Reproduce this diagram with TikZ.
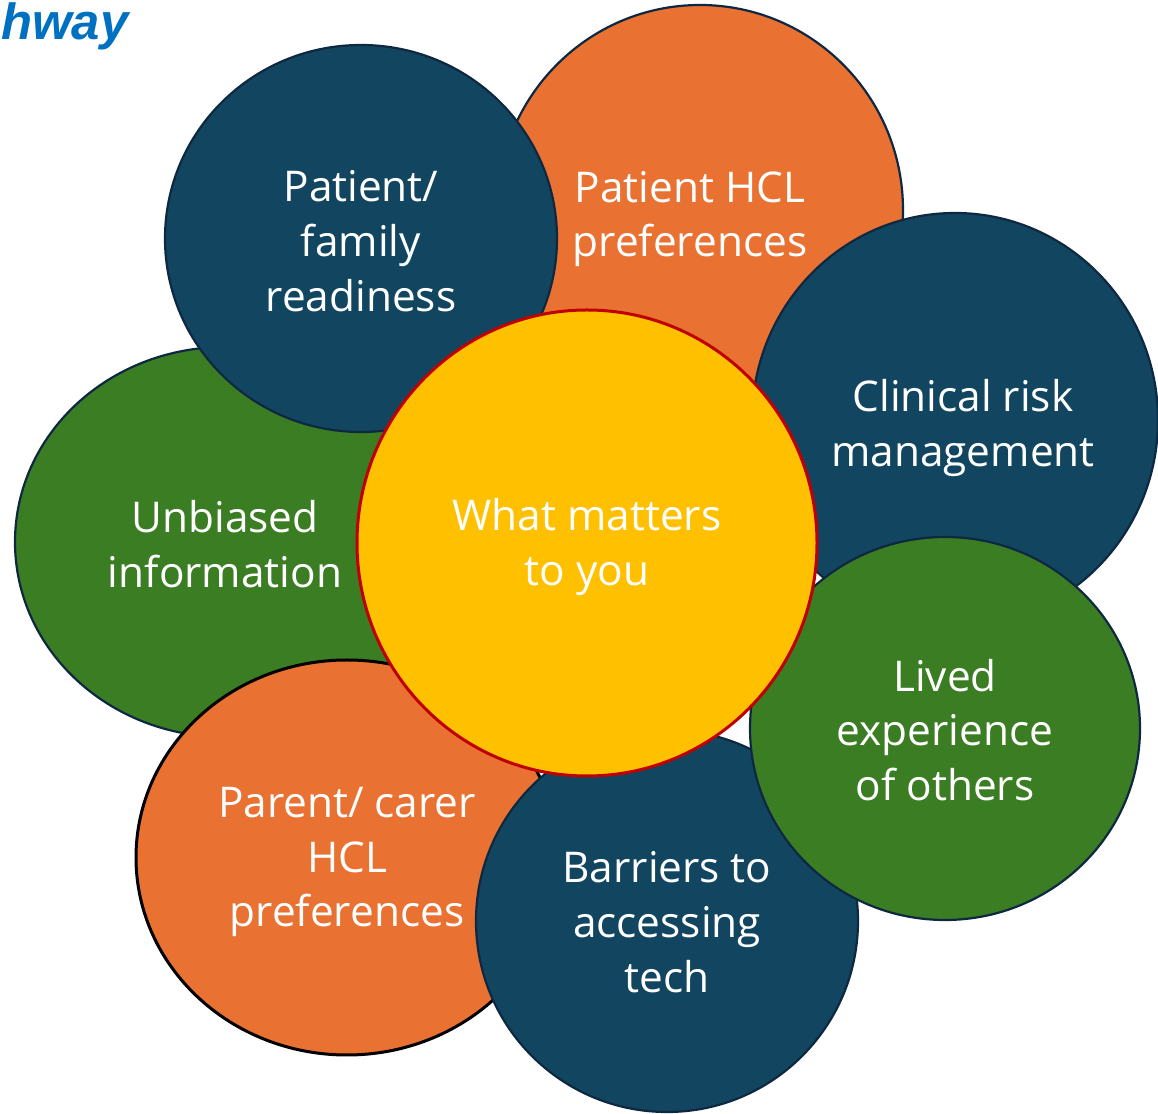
\documentclass[tikz,border=0pt]{standalone}
\usepackage{fontspec}
\newfontfamily\bubblefont{Open Sans}
\newfontfamily\titlefont{Liberation Sans}
\usetikzlibrary{shapes.geometric}

\definecolor{hclorange}{HTML}{E97132}
\definecolor{hclblue}{HTML}{124660}
\definecolor{hclgreen}{HTML}{3B7D23}
\definecolor{hclyellow}{HTML}{FFC000}
\definecolor{hclred}{HTML}{C00000}
\definecolor{hcledge}{HTML}{0E2841}
\definecolor{titleblue}{HTML}{0070C0}

\tikzset{
  bubble/.style={ellipse,draw=hcledge,line width=2.2bp,inner sep=0pt},
  bubbletext/.style={align=center,text=white,inner sep=0pt,
    font=\bubblefont\fontsize{42.5}{55}\selectfont},
}

\begin{document}
\begin{tikzpicture}[line join=bevel]
\useasboundingbox (0bp,0bp) rectangle (1158bp,1114bp);
%%
\node (title) at (1bp,1074bp) [anchor=base west,text=titleblue,inner sep=0pt,font=\titlefont\bfseries\itshape\fontsize{51}{60}\selectfont] {hway};
%% back row
\node (unbiased) at (225bp,572bp) [bubble,fill=hclgreen,minimum width=420bp,minimum height=390bp] {};
\node (hclpref) at (700bp,904bp) [bubble,fill=hclorange,minimum width=406bp,minimum height=410bp] {};
\node (readiness) at (361bp,875.5bp) [bubble,fill=hclblue,minimum width=392bp,minimum height=387bp] {};
\node (clinrisk) at (955bp,694bp) [bubble,fill=hclblue,minimum width=406bp,minimum height=414bp] {};
\node (carerpref) at (347bp,256.5bp) [bubble,draw=black,line width=3bp,fill=hclorange,minimum width=422bp,minimum height=395bp] {};
\node (barriers) at (667bp,193bp) [bubble,fill=hclblue,minimum width=382bp,minimum height=382bp] {};
\node (lived) at (945bp,385.5bp) [bubble,fill=hclgreen,minimum width=390bp,minimum height=383bp] {};
%% centre
\node (matters) at (587bp,571bp) [bubble,draw=hclred,line width=3bp,fill=hclyellow,minimum width=460bp,minimum height=466bp] {};
%% labels
\node (unbiasedtext) at (225bp,570bp) [bubbletext] {Unbiased\\information};
\node (hclpreftext) at (690bp,895bp) [bubbletext] {Patient HCL\\preferences};
\node (readinesstext) at (361bp,873bp) [bubbletext] {Patient/\\family\\readiness};
\node (clinrisktext) at (963bp,686bp) [bubbletext] {Clinical risk\\management};
\node (carerpreftext) at (347bp,252bp) [bubbletext] {Parent/ carer\\HCL\\preferences};
\node (barrierstext) at (667bp,192bp) [bubbletext] {Barriers to\\accessing\\tech};
\node (livedtext) at (945bp,384bp) [bubbletext] {Lived\\experience\\of others};
\node (matterstext) at (587bp,567bp) [bubbletext] {What matters\\to you};
%
\end{tikzpicture}
\end{document}
